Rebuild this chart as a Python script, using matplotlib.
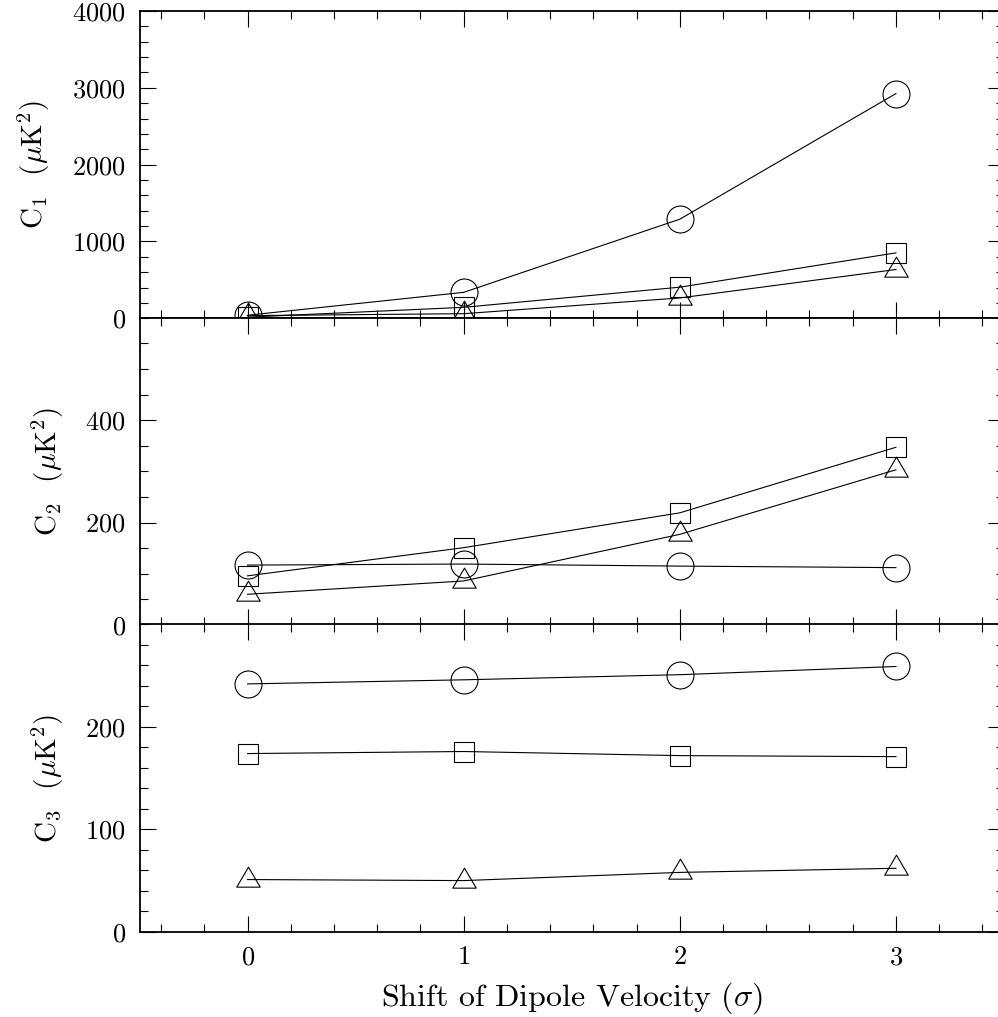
import matplotlib
matplotlib.use("Agg")

import matplotlib.pyplot as plt
from matplotlib.path import Path
from matplotlib.ticker import MultipleLocator

plt.rcParams["font.family"] = "cmr10"
plt.rcParams["mathtext.fontset"] = "cm"
plt.rcParams["axes.formatter.use_mathtext"] = True

# ── data ──────────────────────────────────────────────────────────────────────
shift = [0, 1, 2, 3]

c1_circle   = [40, 338, 1290, 2925]
c1_square   = [15, 143, 405, 852]
c1_triangle = [35, 60, 265, 635]

c2_circle   = [117, 119, 115, 112]
c2_square   = [96, 151, 219, 347]
c2_triangle = [60, 86, 177, 303]

c3_circle   = [242, 246, 251, 259]
c3_square   = [174, 176, 172, 171]
c3_triangle = [51, 50, 58, 62]

panels = [
    (r"C$_1$  ($\mu$K$^2$)", (0, 4000), [0, 1000, 2000, 3000, 4000], 200,
     c1_circle, c1_square, c1_triangle),
    (r"C$_2$  ($\mu$K$^2$)", (0, 600), [0, 200, 400], 50,
     c2_circle, c2_square, c2_triangle),
    (r"C$_3$  ($\mu$K$^2$)", (0, 300), [0, 100, 200], 20,
     c3_circle, c3_square, c3_triangle),
]

# triangle with its centroid on the data point
TRI = Path([(0, 1), (-0.88, -0.5), (0.88, -0.5), (0, 1)],
           [Path.MOVETO, Path.LINETO, Path.LINETO, Path.CLOSEPOLY])

LW = 0.8
MARKERS = [("o", 19.4), ("s", 13.7), (TRI, 19.2)]

# ── figure ────────────────────────────────────────────────────────────────────
fig = plt.figure(figsize=(9.98, 10.17), dpi=100, facecolor="white")

left, width = 0.1398, 0.8662
bottoms = [0.68702, 0.38545, 0.08378]
height = 0.30216

for (ylabel, ylim, yticks, yminor, circ, sq, tri), bottom in zip(panels, bottoms):
    ax = fig.add_axes([left, bottom, width, height])
    for (marker, ms), vals in zip(MARKERS, [circ, sq, tri]):
        ax.plot(shift, vals, color="black", lw=LW, marker=marker, ms=ms,
                mfc="none", mec="black", mew=LW)

    ax.set_xlim(-0.5, 3.5)
    ax.set_ylim(*ylim)
    ax.set_xticks([0, 1, 2, 3])
    ax.xaxis.set_minor_locator(MultipleLocator(0.2))
    ax.set_yticks(yticks)
    ax.yaxis.set_minor_locator(MultipleLocator(yminor))

    ax.tick_params(which="both", direction="in", top=True, right=True,
                   width=0.8, labelsize=19, pad=10)
    ax.tick_params(which="major", length=11.5)
    ax.tick_params(which="minor", length=6)
    for sp in ax.spines.values():
        sp.set_linewidth(1.3)

    ax.set_ylabel(ylabel, fontsize=21, labelpad=14)
    if bottom != bottoms[-1]:
        ax.tick_params(axis="x", labelbottom=False)
    else:
        ax.set_xlabel(r"Shift of Dipole Velocity ($\sigma$)", fontsize=23,
                      labelpad=8)

fig.savefig("out.png", dpi=100, facecolor="white")
